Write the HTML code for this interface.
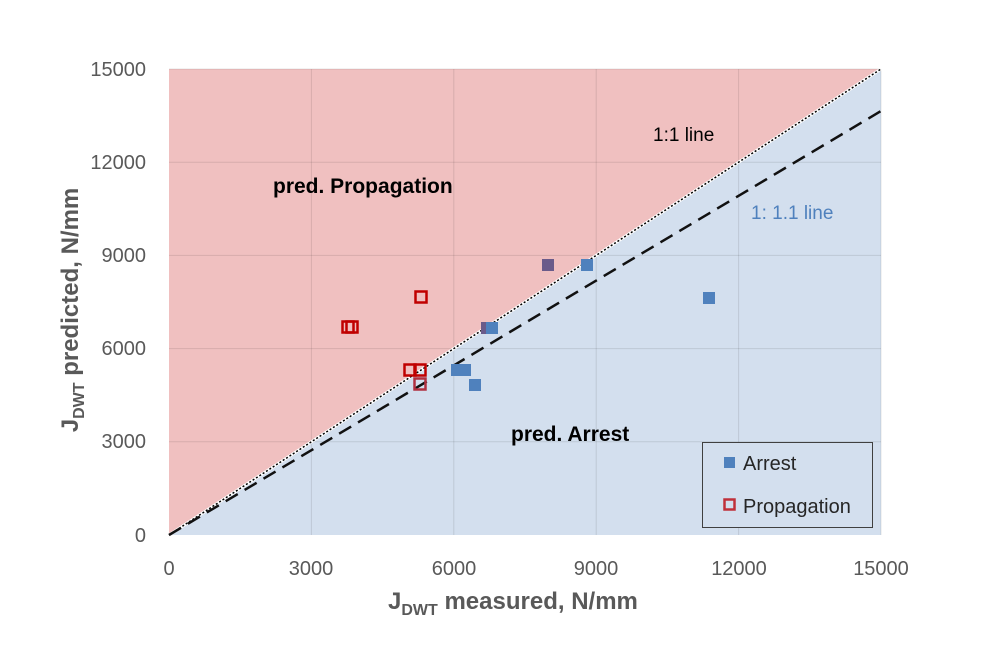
<!DOCTYPE html>
<html><head><meta charset="utf-8"><style>body{margin:0;background:#fff}svg{display:block}</style></head><body>
<svg width="1000" height="650" xmlns="http://www.w3.org/2000/svg" font-family="Liberation Sans, sans-serif">
<rect width="1000" height="650" fill="#fff"/>
<polygon points="169,535 169,69 881,69" fill="#f0c0c0"/>
<polygon points="169,535 881,69 881,535" fill="#d3dfee"/>
<g stroke="#000" stroke-opacity="0.1" stroke-width="1">
<line x1="311.4" y1="69" x2="311.4" y2="535"/><line x1="453.8" y1="69" x2="453.8" y2="535"/><line x1="596.2" y1="69" x2="596.2" y2="535"/><line x1="738.6" y1="69" x2="738.6" y2="535"/><line x1="881" y1="69" x2="881" y2="535"/>
<line x1="169" y1="69" x2="881" y2="69"/><line x1="169" y1="162.2" x2="881" y2="162.2"/><line x1="169" y1="255.4" x2="881" y2="255.4"/><line x1="169" y1="348.6" x2="881" y2="348.6"/><line x1="169" y1="441.8" x2="881" y2="441.8"/>
</g>
<line x1="169" y1="535" x2="881" y2="69" stroke="#fff" stroke-width="3"/>
<line x1="169" y1="535" x2="881" y2="69" stroke="#000" stroke-width="1.5" stroke-dasharray="2,2"/>
<line x1="169" y1="535" x2="881" y2="111" stroke="#111" stroke-width="2.5" stroke-dasharray="14,8"/>
<g fill="#4f81bd">
<rect x="542" y="259" width="12" height="12" fill="#6a5b8a"/>
<rect x="581" y="259" width="12" height="12"/>
<rect x="703" y="292" width="12" height="12"/>
<rect x="481" y="322" width="12" height="12" fill="#6a5b8a"/>
<rect x="486" y="322" width="12" height="12"/>
<rect x="451" y="364" width="12" height="12"/>
<rect x="459" y="364" width="12" height="12"/>
<rect x="469" y="379" width="12" height="12"/>
</g>
<g fill="none" stroke="#c00000" stroke-width="2.5">
<rect x="415.5" y="291.5" width="11" height="11"/>
<rect x="342.5" y="321.5" width="11" height="11"/>
<rect x="346.5" y="321.5" width="11" height="11"/>
<rect x="404.5" y="364.5" width="11" height="11"/>
<rect x="414.5" y="364.5" width="11" height="11"/>
<rect x="414.5" y="378.5" width="11" height="11" stroke="#b03040"/>
</g>
<g font-size="20" fill="#595959" text-anchor="end">
<text x="146" y="76">15000</text><text x="146" y="169">12000</text><text x="146" y="262">9000</text><text x="146" y="355">6000</text><text x="146" y="448">3000</text><text x="146" y="542">0</text>
</g>
<g font-size="20" fill="#595959" text-anchor="middle">
<text x="169" y="575">0</text><text x="311" y="575">3000</text><text x="454" y="575">6000</text><text x="596" y="575">9000</text><text x="739" y="575">12000</text><text x="881" y="575">15000</text>
</g>
<text x="388" y="609" font-size="24" font-weight="bold" fill="#595959">J<tspan font-size="16" dy="6">DWT</tspan><tspan dy="-6">  measured, N/mm</tspan></text>
<text transform="translate(78,310) rotate(-90)" text-anchor="middle" font-size="24" font-weight="bold" fill="#595959">J<tspan font-size="16" dy="6">DWT</tspan><tspan dy="-6"> predicted, N/mm</tspan></text>
<text x="273" y="193" font-size="21" font-weight="bold">pred. Propagation</text>
<text x="511" y="441" font-size="21" font-weight="bold">pred. Arrest</text>
<text x="653" y="141" font-size="19">1:1 line</text>
<text x="751" y="219" font-size="19" fill="#4f81bd">1: 1.1 line</text>
<rect x="702.5" y="442.5" width="170" height="85" fill="#d3dfee" stroke="#404040" stroke-width="1"/>
<rect x="724" y="457" width="11" height="11" fill="#4f81bd"/>
<text x="743" y="470" font-size="20" fill="#262626">Arrest</text>
<rect x="724.5" y="499.5" width="10" height="10" fill="none" stroke="#c0303a" stroke-width="2.5"/>
<text x="743" y="513" font-size="20" fill="#262626">Propagation</text>
</svg>
</body></html>
